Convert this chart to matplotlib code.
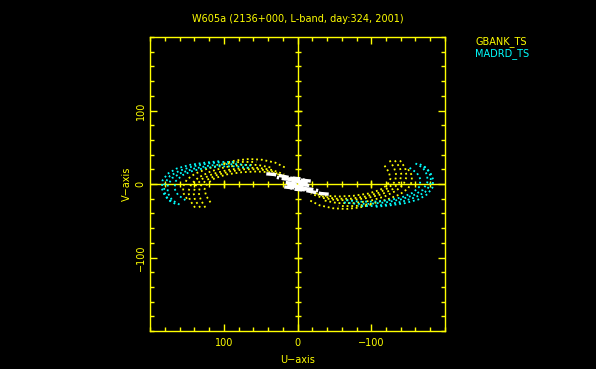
import numpy as np
import matplotlib
matplotlib.use("Agg")
import matplotlib.pyplot as plt
from matplotlib.ticker import MultipleLocator

titulo = "W605a (2136+000, L-band, day:324, 2001)"
nomes = ["GBANK_TS", "MADRD_TS"]

# baselines (u, v) da metade u<0; a outra metade e o conjugado (-u, -v)
gbank_u = [
    [-125, -131, -134, -132, -124, -110, -92, -72, -52, -34, -20, -8],
    [-132, -139, -141, -138, -129, -114, -95, -74, -53, -34, -18],
    [-139, -146, -148, -144, -134, -118, -98, -76, -54, -34],
    [-150, -155, -155, -150, -139, -122, -100, -78, -56],
    [-118, -124, -126, -122, -112, -96, -76, -56, -36, -20, -6],
    [-100, -84, -66, -48, -30, -16],
]
gbank_v = [
    [32, 22, 12, 3, -5, -12, -17, -20, -20, -17, -11, -4],
    [32, 22, 12, 2, -7, -14, -19, -22, -22, -19, -13],
    [32, 22, 10, 0, -9, -17, -23, -26, -26, -22],
    [20, 12, 3, -6, -14, -21, -27, -30, -30],
    [25, 16, 7, -1, -8, -13, -16, -17, -16, -11, -4],
    [-28, -32, -34, -33, -29, -22],
]
madrd_u = [
    [-160, -170, -176, -176, -170, -158, -140, -120, -98, -80, -62],
    [-166, -176, -181, -180, -173, -160, -142, -121, -100, -82],
    [-172, -180, -184, -183, -176, -164, -146, -126, -106],
    [-152, -162, -167, -165, -156, -142, -124, -104, -84, -66],
]
madrd_v = [
    [28, 22, 12, 2, -8, -15, -21, -25, -27, -27, -25],
    [27, 20, 10, -1, -11, -18, -24, -28, -30, -30],
    [24, 16, 6, -5, -14, -21, -26, -29, -31],
    [22, 15, 6, -4, -12, -18, -22, -24, -24, -22],
]
outros_u = [[-12, -22, -32, -44], [-8, -18, -28], [6, -4, -14], [12, 2, -8], [16, 6, -4, -12],
            [4, -6], [18, 8, -2, -12, -20], [10, 0, -10]]
outros_v = [[-9, -11, -13, -14], [-6, -7, -9], [5, 3, 2], [-2, -3, -5], [2, 1, 0, -1],
            [-7, -8], [-4, -5, -6, -7, -8], [8, 7, 5]]

AMARELO = "#ffff00"
CIANO = "#00ffff"

fig = plt.figure(figsize=(5.96, 3.69), dpi=100, facecolor="black")
ax = fig.add_axes([150 / 596, 38 / 369, 295 / 596, 294 / 369])
ax.set_facecolor("black")

# eixos centrais com marcas
ax.axhline(0, color=AMARELO, lw=1.0, zorder=1)
ax.axvline(0, color=AMARELO, lw=1.0, zorder=1)
marcas = np.arange(-180, 181, 20)
grandes = marcas[marcas % 100 == 0]
ax.plot(marcas, np.zeros_like(marcas), ls="none", marker="|", ms=3.8, mew=1, color=AMARELO, zorder=1)
ax.plot(np.zeros_like(marcas), marcas, ls="none", marker="_", ms=3.8, mew=1, color=AMARELO, zorder=1)
ax.plot(grandes, np.zeros_like(grandes), ls="none", marker="|", ms=6, mew=1, color=AMARELO, zorder=1)
ax.plot(np.zeros_like(grandes), grandes, ls="none", marker="_", ms=6, mew=1, color=AMARELO, zorder=1)

def desenhar(us, vs, cor, lw, traco):
    for u, v in zip(us, vs):
        u = np.array(u)
        v = np.array(v)
        for s in (1, -1):
            ax.plot(s * u, s * v, color=cor, lw=lw, ls=(0, traco), zorder=3)

desenhar(gbank_u, gbank_v, AMARELO, 1.3, (1, 1.6))
desenhar(madrd_u, madrd_v, CIANO, 1.3, (1, 1.6))
desenhar(outros_u, outros_v, "white", 2.4, (3, 0.8))

ax.set_xlim(200, -200)
ax.set_ylim(-200, 200)
ax.set_xticks([100, 0, -100])
ax.set_yticks([100, 0, -100])
ax.xaxis.set_minor_locator(MultipleLocator(20))
ax.yaxis.set_minor_locator(MultipleLocator(20))
ax.tick_params(which="both", direction="in", top=True, right=True, color=AMARELO,
               labelcolor=AMARELO, labelsize=7, width=1)
ax.tick_params(which="major", length=5)
ax.tick_params(axis="x", which="major", pad=5)
ax.tick_params(axis="y", which="major", pad=3)
ax.tick_params(which="minor", length=3)
for lab in ax.get_yticklabels():
    lab.set_rotation(90)
    lab.set_va("center")
for sp in ax.spines.values():
    sp.set_color(AMARELO)
    sp.set_linewidth(1.0)

ax.set_xlabel("U\u2212axis", color=AMARELO, fontsize=7, labelpad=5)
ax.set_ylabel("V\u2212axis", color=AMARELO, fontsize=7, labelpad=3)
ax.set_title(titulo, color=AMARELO, fontsize=7, pad=11)

fig.text(475 / 596, 1 - 41.5 / 369, nomes[0], color=AMARELO, fontsize=7, va="center", ha="left")
fig.text(475 / 596, 1 - 53.5 / 369, nomes[1], color=CIANO, fontsize=7, va="center", ha="left")

fig.savefig("out.png", dpi=100, facecolor="black")
